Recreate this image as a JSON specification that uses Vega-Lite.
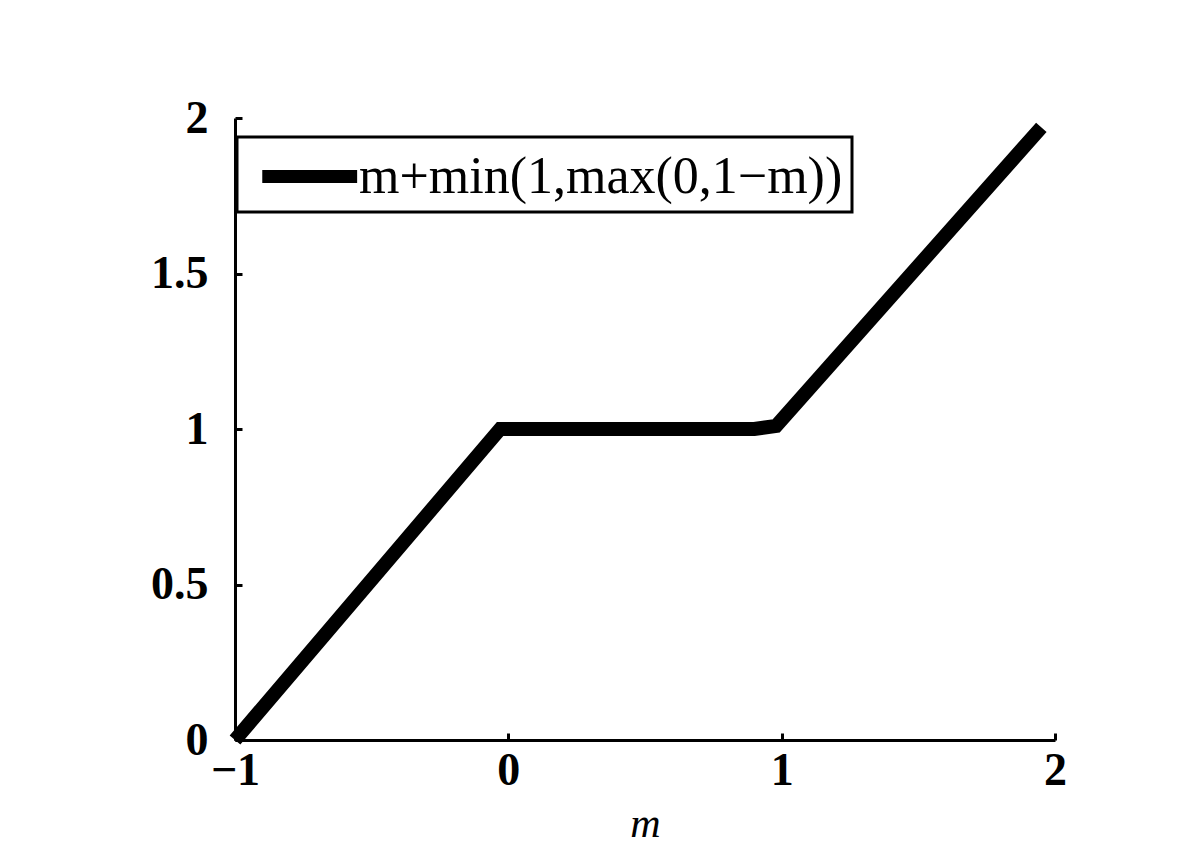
{
  "$schema": "https://vega.github.io/schema/vega-lite/v6.json",
  "width": 820,
  "height": 622,
  "autosize": "none",
  "padding": {"left": 235, "top": 118, "right": 129, "bottom": 124},
  "background": "white",
  "config": {
    "view": {"stroke": null},
    "axis": {
      "grid": false,
      "domainColor": "black",
      "domainWidth": 3,
      "tickColor": "black",
      "tickWidth": 3,
      "tickSize": -7,
      "labelFont": "Liberation Serif",
      "labelFontSize": 46,
      "labelFontWeight": "bold",
      "labelColor": "black",
      "labelPadding": 15,
      "labelFlush": false,
      "titleFont": "Liberation Serif",
      "titleColor": "black"
    },
    "legend": {
      "orient": "none",
      "legendX": 2,
      "legendY": 19,
      "strokeColor": "black",
      "strokeWidth": 3,
      "fillColor": "white",
      "padding": 9,
      "symbolType": "M-0.6,0H3.4",
      "symbolStrokeWidth": 13,
      "symbolSize": 2250,
      "labelOffset": 52,
      "labelFont": "Liberation Serif",
      "labelFontSize": 52,
      "labelColor": "black",
      "labelLimit": 0
    }
  },
  "data": {
    "values": [
      {"m": -1, "value": 0, "series": "m+min(1,max(0,1−m))"},
      {"m": -0.03, "value": 1, "series": "m+min(1,max(0,1−m))"},
      {"m": 0.9, "value": 1, "series": "m+min(1,max(0,1−m))"},
      {"m": 0.98, "value": 1.01, "series": "m+min(1,max(0,1−m))"},
      {"m": 1.95, "value": 1.97, "series": "m+min(1,max(0,1−m))"}
    ]
  },
  "mark": {"type": "line", "strokeWidth": 14, "strokeCap": "butt", "strokeJoin": "miter"},
  "encoding": {
    "x": {
      "field": "m",
      "type": "quantitative",
      "scale": {"domain": [-1, 2], "nice": false, "zero": false},
      "axis": {"values": [-1, 0, 1, 2], "format": "~g", "title": "m", "titleFontStyle": "italic", "titleFontWeight": "normal", "titleFontSize": 42, "titlePadding": 10}
    },
    "y": {
      "field": "value",
      "type": "quantitative",
      "scale": {"domain": [0, 2], "nice": false},
      "axis": {"values": [0, 0.5, 1, 1.5, 2], "format": "~g", "title": null, "labelPadding": 34}
    },
    "color": {
      "field": "series",
      "type": "nominal",
      "scale": {"range": ["black"]},
      "legend": {"title": null}
    }
  }
}
